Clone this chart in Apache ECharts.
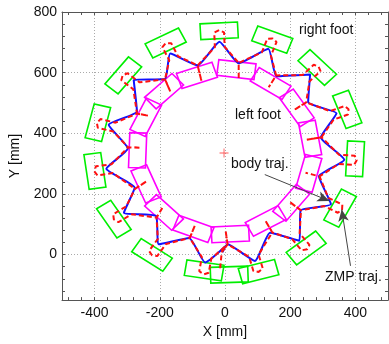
<!DOCTYPE html>
<html><head><meta charset="utf-8">
<script src="https://cdn.jsdelivr.net/npm/echarts@6/dist/echarts.min.js"></script>
<style>html,body{margin:0;padding:0;background:#fff}#chart{width:389px;height:344px}</style>
</head><body><div id="chart"></div>
<script>
// ---- axis ticks / labels ----
const xTickLabels = [-400, -200, 0, 200, 400];
const yTickLabels = [0, 200, 400, 600, 800];
const xMinorTicks = [-480,-440,-400,-360,-320,-280,-240,-200,-160,-120,-80,-40,0,40,80,120,160,200,240,280,320,360,400,440,480];
const yMinorTicks = [-120,-80,-40,0,40,80,120,160,200,240,280,320,360,400,440,480,520,560,600,640,680,720,760,800];

// ---- footsteps [x mm, y mm, heading deg] ----
const footLength = 115, footWidth = 52;
const rightFootSteps = [
  [-18, 738, 3], [145, 709, -21], [283, 617, -45], [375, 479, -69], [399, 316, 87],
  [353, 153, 62], [249, 22, 38], [103, -56, 15], [13, -66, 2], [-64, -52, -9],
  [-224, -1, -34], [-341, 117, -57], [-399, 276, -82], [-390, 435, 76], [-312, 591, 51],
  [-182, 698, 27]
];
const leftFootSteps = [
  [35, 610, -7], [-86, 591, 19], [140, 564, -32], [220, 484, -56], [261, 382, -80],
  [257, 268, 75], [203, 171, 51], [125, 111, 29], [16, 68, 3], [-97, 85, -21],
  [-187, 139, -44], [-242, 233, -67], [-268, 344, 88], [-243, 453, 64], [-187, 539, 43]
];

// ---- body trajectory ----
const bodyTraj = [
  [-8, 8], [8, 34], [92, -21], [138, 72], [228, 46], [232, 146], [325, 166], [288, 258],
  [366, 313], [294, 386], [342, 466], [255, 502], [261, 594], [158, 588], [133, 679],
  [42, 631], [-17, 702], [-84, 624], [-168, 663], [-184, 579], [-280, 576], [-270, 472],
  [-357, 428], [-298, 350], [-364, 283], [-277, 221], [-310, 138], [-212, 128], [-203, 34],
  [-110, 55], [-61, -26], [8, 34]
];

// ---- ZMP trajectory ----
const zmpTraj = [
  [-15, -45], [-10, 8],
  [8, 34], [2, 78], [8, 34],
  [74, -7], [87, -54], [103, -57], [116, -46], [103, 0],
  [145, 73], [124, 112], [145, 73],
  [206, 51], [235, 14], [252, 18], [259, 32], [229, 70],
  [233, 146], [198, 174], [233, 146],
  [304, 160], [346, 138], [359, 148], [360, 165], [317, 187],
  [290, 258], [247, 270], [290, 258],
  [349, 299], [396, 296], [404, 311], [398, 326], [350, 329],
  [296, 387], [251, 379], [296, 387],
  [333, 445], [377, 462], [379, 479], [367, 490], [322, 473],
  [249, 502], [212, 477], [249, 502],
  [259, 571], [293, 605], [287, 620], [272, 626], [238, 592],
  [157, 591], [134, 552], [157, 591],
  [141, 656], [158, 701], [146, 713], [130, 712], [113, 667],
  [42, 632], [42, 578], [42, 632],
  [-1, 685], [-3, 733], [-18, 740], [-33, 732], [-31, 684],
  [-84, 624], [-72, 572], [-84, 624],
  [-144, 654], [-165, 697], [-182, 697], [-192, 684], [-171, 641],
  [-184, 578], [-168, 538], [-184, 578],
  [-262, 568], [-299, 598], [-314, 591], [-318, 575], [-281, 545],
  [-270, 465], [-235, 458], [-270, 465],
  [-336, 435], [-382, 447], [-393, 434], [-390, 418], [-343, 406],
  [-297, 354], [-258, 352], [-297, 354],
  [-348, 298], [-396, 291], [-401, 275], [-391, 261], [-344, 269],
  [-276, 217], [-240, 242], [-276, 217],
  [-303, 159], [-343, 133], [-341, 116], [-327, 107], [-286, 133],
  [-210, 122], [-190, 158], [-210, 122],
  [-206, 52], [-233, 12], [-224, -2], [-208, -5], [-181, 35],
  [-108, 55], [-92, 97], [-108, 55],
  [-71, -8], [-79, -55], [-65, -65], [-50, -60], [-42, -13],
  [8, 34], [-10, 8]
];

const circleCenter = [[-3, 335]];
const annotationArrows = [
  [[122, 264], [320, 177]],
  [[385, -37], [358, 149]]
];

const FONT = '"Liberation Sans", Arial, sans-serif';
const AXIS_COLOR = '#555';

function footRenderer(color) {
  return function (params, api) {
    const cx = api.value(0), cy = api.value(1), a = api.value(2) * Math.PI / 180;
    const ca = Math.cos(a), sa = Math.sin(a);
    const hl = footLength / 2, hw = footWidth / 2;
    const pts = [[hl, hw], [-hl, hw], [-hl, -hw], [hl, -hw]].map(function (p) {
      return api.coord([cx + p[0] * ca - p[1] * sa, cy + p[0] * sa + p[1] * ca]);
    });
    return { type: 'polygon', shape: { points: pts },
      style: { fill: 'none', stroke: color, lineWidth: 1.6 } };
  };
}

function baseAxis(min, max, pos) {
  return { type: 'value', min: min, max: max, position: pos,
    axisLine: { show: true, onZero: false, lineStyle: { color: AXIS_COLOR, width: 1 } },
    splitLine: { show: false } };
}

const chart = echarts.init(document.getElementById('chart'), null, { renderer: 'canvas' });
const xMain = Object.assign(baseAxis(-500, 500, 'bottom'), {
  axisTick: { show: true, inside: true, length: 3, customValues: xMinorTicks, lineStyle: { color: AXIS_COLOR } },
  axisLabel: { customValues: xTickLabels, fontSize: 14, color: '#111', margin: 6, fontFamily: FONT,
    formatter: function (v) { return xTickLabels.indexOf(v) >= 0 ? String(v) : ''; } },
  name: 'X [mm]', nameLocation: 'middle', nameGap: 19,
  nameTextStyle: { fontSize: 14, color: '#111', fontFamily: FONT }
});
const xGrid = { type: 'value', min: -500, max: 500, position: 'bottom',
  axisLine: { show: false }, axisTick: { show: false }, axisLabel: { show: false },
  splitLine: { show: true, lineStyle: { color: '#aaa', type: [1, 2], width: 1 } } };
const xTop = Object.assign(baseAxis(-500, 500, 'top'), {
  axisTick: { show: true, inside: true, length: 3, customValues: xMinorTicks, lineStyle: { color: AXIS_COLOR } },
  axisLabel: { show: false } });
const yMain = Object.assign(baseAxis(-150, 800, 'left'), {
  axisTick: { show: true, inside: true, length: 3, customValues: yMinorTicks, lineStyle: { color: AXIS_COLOR } },
  axisLabel: { customValues: yTickLabels, fontSize: 14, color: '#111', margin: 5, fontFamily: FONT,
    formatter: function (v) { return yTickLabels.indexOf(v) >= 0 ? String(v) : ''; } },
  name: 'Y [mm]', nameLocation: 'middle', nameGap: 40, nameRotate: 90,
  nameTextStyle: { fontSize: 14, color: '#111', fontFamily: FONT }
});
const yGrid = { type: 'value', min: -150, max: 800, position: 'left',
  axisLine: { show: false }, axisTick: { show: false }, axisLabel: { show: false },
  splitLine: { show: true, lineStyle: { color: '#aaa', type: [1, 2], width: 1 } } };
const yRight = Object.assign(baseAxis(-150, 800, 'right'), {
  axisTick: { show: true, inside: true, length: 3, customValues: yMinorTicks, lineStyle: { color: AXIS_COLOR } },
  axisLabel: { show: false } });

chart.setOption({
  animation: false,
  grid: { left: 62, right: 1, top: 12, bottom: 41 },
  xAxis: [xMain, xGrid, xTop],
  yAxis: [yMain, yGrid, yRight],
  series: [
    { type: 'custom', name: 'left foot', xAxisIndex: 0, yAxisIndex: 0, clip: true,
      renderItem: footRenderer('#ff00ff'), encode: { x: 0, y: 1 }, data: leftFootSteps, z: 2 },
    { type: 'custom', name: 'right foot', xAxisIndex: 0, yAxisIndex: 0, clip: true,
      renderItem: footRenderer('#00ee00'), encode: { x: 0, y: 1 }, data: rightFootSteps, z: 2 },
    { type: 'line', name: 'body traj.', xAxisIndex: 0, yAxisIndex: 0, data: bodyTraj,
      showSymbol: false, symbol: 'none', smooth: 0.15, z: 3,
      lineStyle: { color: '#1010ff', width: 2 },
      markLine: { silent: true, symbol: ['none', 'arrow'], symbolSize: [8, 12],
        lineStyle: { color: '#444', width: 1, type: 'solid' }, label: { show: false },
        data: annotationArrows.map(function (a) { return [{ coord: a[0] }, { coord: a[1] }]; }) } },
    { type: 'line', name: 'ZMP traj.', xAxisIndex: 0, yAxisIndex: 0, data: zmpTraj,
      showSymbol: false, symbol: 'none', z: 4,
      lineStyle: { color: '#ff1010', width: 2, type: [5, 3] } },
    { type: 'scatter', xAxisIndex: 0, yAxisIndex: 0, data: circleCenter, z: 5,
      symbol: 'path://M4.5 0H5.5V4.5H10V5.5H5.5V10H4.5V5.5H0V4.5H4.5Z', symbolSize: 9,
      itemStyle: { color: '#ff3030' } }
  ],
  graphic: [
    { type: 'text', left: 299, top: 23, style: { text: 'right foot', font: '14px ' + FONT, fill: '#111' } },
    { type: 'text', left: 235, top: 108, style: { text: 'left foot', font: '14px ' + FONT, fill: '#111' } },
    { type: 'text', left: 231, top: 157, style: { text: 'body traj.', font: '14px ' + FONT, fill: '#111' } },
    { type: 'text', left: 325, top: 270, style: { text: 'ZMP traj.', font: '14px ' + FONT, fill: '#111' } }
  ]
});
</script>
</body></html>
